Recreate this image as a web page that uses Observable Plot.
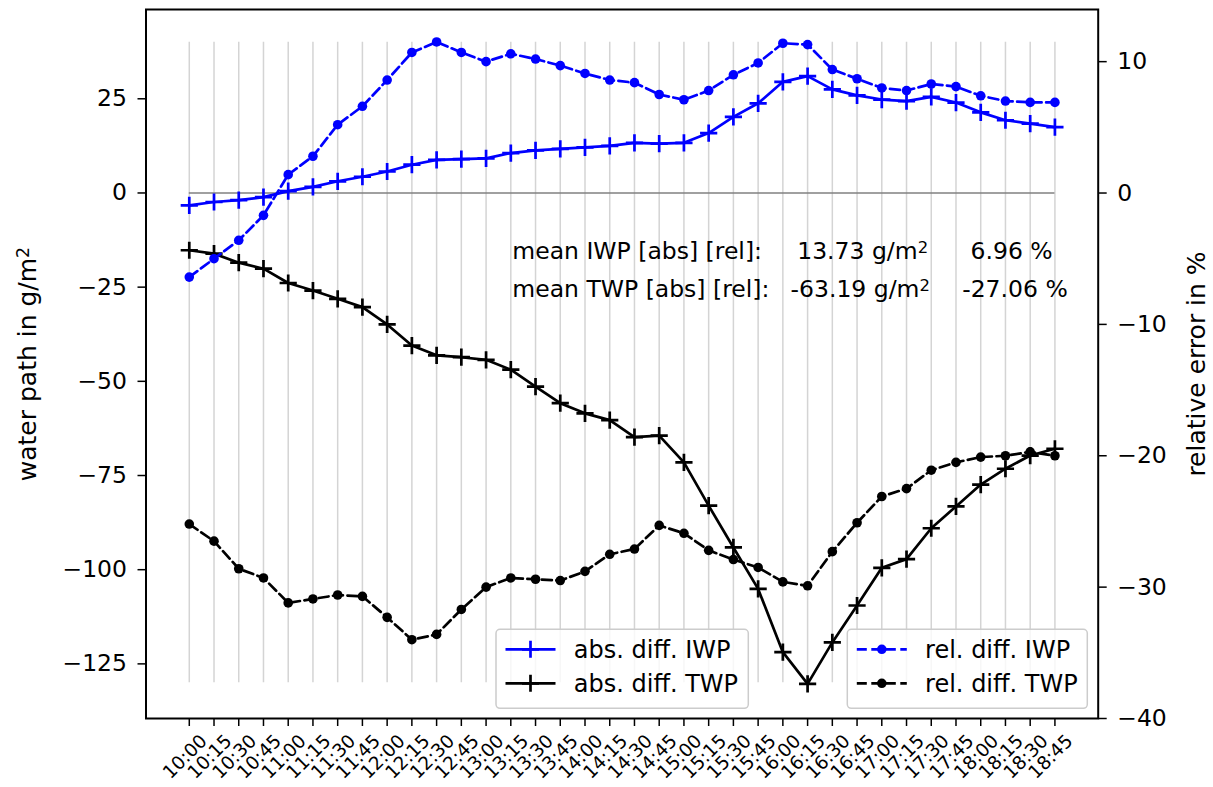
<!DOCTYPE html>
<html>
<head>
<meta charset="utf-8">
<script src="https://cdn.jsdelivr.net/npm/d3@7"></script>
<script src="https://cdn.jsdelivr.net/npm/@observablehq/plot@0.6"></script>
<style>
  body { margin: 0; background: white; }
  #wrap { position: relative; width: 1213px; height: 787px; font-family: "DejaVu Sans", sans-serif; }
  #wrap svg { position: absolute; left: 0; top: 0; }
</style>
</head>
<body>
<div id="wrap"></div>
<script>
const times = ["10:00","10:15","10:30","10:45","11:00","11:15","11:30","11:45","12:00","12:15","12:30","12:45",
  "13:00","13:15","13:30","13:45","14:00","14:15","14:30","14:45","15:00","15:15","15:30","15:45",
  "16:00","16:15","16:30","16:45","17:00","17:15","17:30","17:45","18:00","18:15","18:30","18:45"];
const absIWP = [-3.3,-2.4,-1.9,-1.1,0.5,1.6,3.1,4.3,5.7,7.5,8.8,9.0,9.2,10.6,11.3,11.7,12.1,12.5,13.3,13.1,
  13.3,15.9,20.2,23.8,29.5,31.0,27.5,25.9,24.8,24.4,25.5,24.0,21.4,19.3,18.4,17.5];
const absTWP = [-15.2,-16.1,-18.5,-20.1,-23.9,-25.9,-28.1,-30.3,-34.9,-40.5,-43.1,-43.6,-44.3,-46.9,-51.4,-55.8,
  -58.5,-60.3,-64.8,-64.4,-71.5,-83.0,-94.1,-105.1,-121.9,-130.3,-119.3,-109.5,-99.5,-97.2,-89.0,-83.2,-77.4,-73.2,-69.7,-67.9];
const relIWP = [-6.4,-5.0,-3.6,-1.7,1.4,2.8,5.2,6.6,8.6,10.7,11.5,10.7,10.0,10.6,10.2,9.7,9.1,8.6,8.4,7.5,
  7.1,7.8,9.0,9.9,11.4,11.3,9.4,8.7,8.0,7.8,8.3,8.1,7.4,7.0,6.9,6.9];
const relTWP = [-25.2,-26.5,-28.6,-29.3,-31.2,-30.9,-30.6,-30.7,-32.3,-34.0,-33.6,-31.7,-30.0,-29.3,-29.4,-29.5,
  -28.8,-27.5,-27.1,-25.3,-25.9,-27.2,-27.9,-28.5,-29.6,-29.9,-27.3,-25.1,-23.1,-22.5,-21.1,-20.5,-20.1,-20.0,-19.7,-20.0];
const leftTicks = [25, 0, -25, -50, -75, -100, -125];
const rightTicks = [10, 0, -10, -20, -30, -40];
const seriesNames = ["abs. diff. IWP", "abs. diff. TWP", "rel. diff. IWP", "rel. diff. TWP"];
const meanLines = [
  {label: "mean IWP [abs] [rel]:", abs: "13.73 g/m²", rel: "6.96 %"},
  {label: "mean TWP [abs] [rel]:", abs: "-63.19 g/m²", rel: "-27.06 %"}
];

const leftDomain = [-139.5, 48.7];
const rightDomain = [-40, 13.97];
const rel2abs = d3.scaleLinear().domain(rightDomain).range(leftDomain);
const idx = times.map((_, i) => i);
const rows = idx.map(i => ({i, absIWP: absIWP[i], absTWP: absTWP[i], relIWP: rel2abs(relIWP[i]), relTWP: rel2abs(relTWP[i])}));
const fmt = d => d < 0 ? "\u2212" + Math.abs(d) : String(d);

const LW = 2.7;
const dash = "10,4.5";
const W = 1213, H = 787;
const mL = 145.5, mR = 115.3, mT = 9, mB = 69;

const plot = Plot.plot({
  width: W, height: H,
  marginLeft: mL, marginRight: mR, marginTop: mT, marginBottom: mB,
  x: {type: "linear", domain: [-1.75, 36.75], axis: null},
  y: {type: "linear", domain: leftDomain, axis: null},
  style: {fontFamily: "DejaVu Sans, sans-serif", background: "white", color: "black", overflow: "visible"},
  marks: [
    Plot.ruleX(idx, {x: d => d, y1: -130, y2: 40, stroke: "#d4d4d4", strokeWidth: 1.5}),
    Plot.ruleY([0], {y: d => d, x1: 0, x2: 35, stroke: "#808080", strokeWidth: 1.5}),
    Plot.line(rows, {x: "i", y: "absIWP", stroke: "blue", strokeWidth: LW}),
    Plot.dot(rows, {x: "i", y: "absIWP", symbol: "plus", r: 5.6, stroke: "blue", strokeWidth: LW}),
    Plot.line(rows, {x: "i", y: "absTWP", stroke: "black", strokeWidth: LW}),
    Plot.dot(rows, {x: "i", y: "absTWP", symbol: "plus", r: 5.6, stroke: "black", strokeWidth: LW}),
    Plot.line(rows, {x: "i", y: "relIWP", stroke: "blue", strokeWidth: LW, strokeDasharray: dash}),
    Plot.dot(rows, {x: "i", y: "relIWP", r: 4.8, fill: "blue"}),
    Plot.line(rows, {x: "i", y: "relTWP", stroke: "black", strokeWidth: LW, strokeDasharray: dash}),
    Plot.dot(rows, {x: "i", y: "relTWP", r: 4.8, fill: "black"}),
    Plot.axisY(leftTicks, {anchor: "left", tickSize: 8, tickPadding: 11, tickFormat: fmt, fontSize: 23.5, strokeWidth: 1.5, label: null}),
    Plot.axisY(rightTicks.map(rel2abs), {anchor: "right", tickSize: 8, tickPadding: 11, tickFormat: d => fmt(Math.round(rel2abs.invert(d))), fontSize: 23.5, strokeWidth: 1.5, label: null}),
    Plot.axisX(idx, {anchor: "bottom", tickSize: 8, tickFormat: () => "", strokeWidth: 1.5, label: null}),
    Plot.text(idx, {x: d => d, text: d => times[d], frameAnchor: "bottom", dy: 42.5, rotate: -45, textAnchor: "middle", fontSize: 18.5}),
    Plot.frame({stroke: "black", strokeWidth: 2}),
    Plot.text(meanLines, {x: 13.06, y: (d, i) => i === 0 ? -15.4 : -25.55, text: "label", textAnchor: "start", fontSize: 23.5}),
    Plot.text(meanLines, {x: (d, i) => i === 0 ? 24.58 : 24.31, y: (d, i) => i === 0 ? -15.4 : -25.55, text: "abs", textAnchor: "start", fontSize: 23.5}),
    Plot.text(meanLines, {x: (d, i) => i === 0 ? 31.59 : 31.25, y: (d, i) => i === 0 ? -15.4 : -25.55, text: "rel", textAnchor: "start", fontSize: 23.5}),
    Plot.text(["water path in g/m²"], {text: d => d, frameAnchor: "left", dx: -118, rotate: -90, textAnchor: "middle", fontSize: 25}),
    Plot.text(["relative error in %"], {text: d => d, frameAnchor: "right", dx: 99, rotate: -90, textAnchor: "middle", fontSize: 25})
  ]
});
document.getElementById("wrap").appendChild(plot);

// Render "²" as a mathtext-like superscript 2
d3.select(plot).selectAll("text").each(function () {
  const t = this.textContent;
  if (!t.includes("²")) return;
  const [before, after] = t.split("²");
  const sel = d3.select(this);
  sel.text(null);
  sel.append("tspan").text(before);
  sel.append("tspan").attr("baseline-shift", "38%").attr("font-size", "70%").text("2");
  if (after) sel.append("tspan").text(after);
});

// Legends overlay
const leg = d3.select("#wrap").append("svg").attr("width", W).attr("height", H)
  .style("pointer-events", "none").attr("font-family", "DejaVu Sans, sans-serif");
const boxes = [
  {x: 496, w: 252.3, items: [{name: seriesNames[0], color: "blue", kind: "plus"}, {name: seriesNames[1], color: "black", kind: "plus"}]},
  {x: 847.3, w: 240, items: [{name: seriesNames[2], color: "blue", kind: "dot"}, {name: seriesNames[3], color: "black", kind: "dot"}]}
];
const boxY = 629.3, boxH = 79, rowYs = [649.3, 683.3];
for (const b of boxes) {
  leg.append("rect").attr("x", b.x).attr("y", boxY).attr("width", b.w).attr("height", boxH)
    .attr("rx", 4).attr("fill", "white").attr("fill-opacity", 0.8).attr("stroke", "#cccccc").attr("stroke-width", 1.5);
  b.items.forEach((it, k) => {
    const y = rowYs[k], x0 = b.x + 9.5, x1 = x0 + 50, xm = (x0 + x1) / 2;
    leg.append("line").attr("x1", x0).attr("x2", x1).attr("y1", y).attr("y2", y)
      .attr("stroke", it.color).attr("stroke-width", LW)
      .attr("stroke-dasharray", it.kind === "dot" ? "10,4.5" : null);
    if (it.kind === "plus") {
      leg.append("path").attr("d", `M${xm - 8.5},${y}H${xm + 8.5}M${xm},${y - 8.5}V${y + 8.5}`)
        .attr("stroke", it.color).attr("stroke-width", LW);
    } else {
      leg.append("circle").attr("cx", xm).attr("cy", y).attr("r", 4.8).attr("fill", it.color);
    }
    leg.append("text").attr("x", x1 + 18.3).attr("y", y).attr("dy", "0.35em")
      .attr("font-size", 24).attr("fill", "black").text(it.name);
  });
}
</script>
</body>
</html>
